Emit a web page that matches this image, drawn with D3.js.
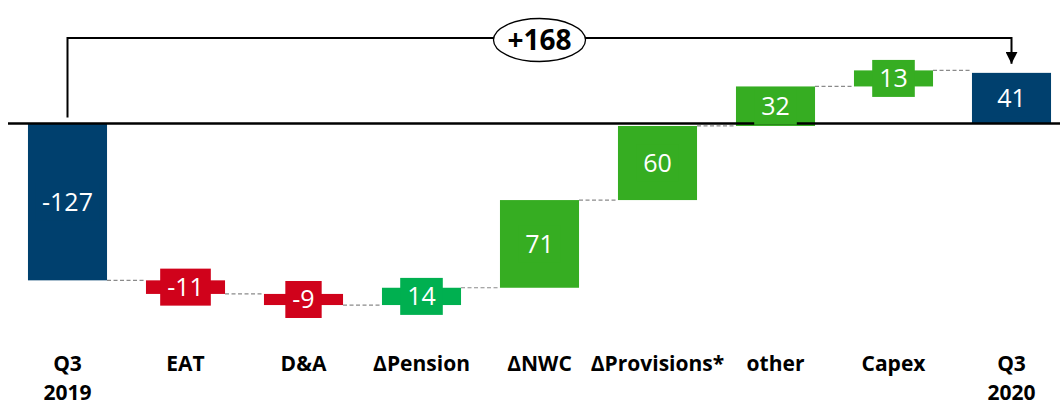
<!DOCTYPE html>
<html>
<head>
<meta charset="utf-8">
<script src="https://cdn.jsdelivr.net/npm/d3@7"></script>
<style>
  html, body { margin: 0; padding: 0; background: #fff; }
  svg { display: block; }
  text { font-family: "Open Sans", "Liberation Sans", sans-serif; }
</style>
</head>
<body>
<svg id="chart" width="1060" height="407"></svg>
<script>
// Cash bridge: Q3 2019 -> Q3 2020
const categories = ["Q3 2019", "EAT", "D&A", "ΔPension", "ΔNWC", "ΔProvisions*", "other", "Capex", "Q3 2020"];
const values     = [-127, -11, -9, 14, 71, 60, 32, 13, 41];
const kinds      = ["total", "delta", "delta", "delta", "delta", "delta", "delta", "delta", "total"];
const tickLabels = [["Q3", "2019"], ["EAT"], ["D&A"], ["ΔPension"], ["ΔNWC"], ["ΔProvisions*"], ["other"], ["Capex"], ["Q3", "2020"]];

const navy = "#00406E", red = "#D0021B", green = "#36AD22", greenAlt = "#00B050";
const barColors = {
  "Q3 2019": navy, "EAT": red, "D&A": red, "ΔPension": greenAlt, "ΔNWC": green,
  "ΔProvisions*": green, "other": green, "Capex": green, "Q3 2020": navy
};

// running totals for the floating bars
let run = 0;
const bars = categories.map((c, i) => {
  let y0, y1;
  if (kinds[i] === "total") { y0 = 0; y1 = values[i]; run = values[i]; }
  else { y0 = run; y1 = run + values[i]; run = y1; }
  return { cat: c, value: values[i], y0, y1, color: barColors[c] };
});

const svg = d3.select("#chart");

const x = d3.scaleBand().domain(categories).range([8.5, 1070.5])
  .paddingInner(0.33).paddingOuter(0.165);
const y = d3.scaleLinear().domain([-150, 50]).range([308.75, 61.75]);
const bw = x.bandwidth();

// dashed connectors between consecutive bars
const conn = [];
for (let i = 0; i < bars.length - 1; i++) {
  conn.push({ x1: x(bars[i].cat) + bw, x2: x(bars[i + 1].cat), lvl: bars[i].y1 });
}
svg.append("g").selectAll("line").data(conn).join("line")
  .attr("x1", d => d.x1).attr("x2", d => d.x2)
  .attr("y1", d => y(d.lvl)).attr("y2", d => y(d.lvl))
  .attr("stroke", "#8a8a8a").attr("stroke-width", 1.2)
  .attr("stroke-dasharray", "4,2.5");

// bars
svg.append("g").selectAll("rect").data(bars).join("rect")
  .attr("x", d => x(d.cat))
  .attr("width", bw)
  .attr("y", d => y(Math.max(d.y0, d.y1)))
  .attr("height", d => Math.abs(y(d.y0) - y(d.y1)))
  .attr("fill", d => d.color);

// zero line
svg.append("line")
  .attr("x1", 8).attr("x2", 1060)
  .attr("y1", y(0)).attr("y2", y(0))
  .attr("stroke", "#000").attr("stroke-width", 2.5);

// value labels on a box in the bar colour
const fmt = v => String(v);
const lbl = svg.append("g").selectAll("g").data(bars).join("g")
  .attr("transform", d => `translate(${x(d.cat) + bw / 2},${(y(d.y0) + y(d.y1)) / 2})`);
lbl.append("text")
  .attr("text-anchor", "middle")
  .attr("dy", "0.36em")
  .attr("fill", "#fff")
  .attr("font-size", 25)
  .text(d => fmt(d.value));
lbl.each(function () {
  const g = d3.select(this);
  const bb = g.select("text").node().getBBox();
  g.insert("rect", "text")
    .attr("x", bb.x - 7).attr("width", bb.width + 14)
    .attr("y", -18.5).attr("height", 37)
    .attr("fill", d => d.color);
});

// category labels
const cats = svg.append("g").selectAll("text").data(categories).join("text")
  .attr("x", d => x(d) + bw / 2)
  .attr("y", 371)
  .attr("text-anchor", "middle")
  .attr("font-size", 21)
  .attr("font-weight", "bold")
  .attr("fill", "#000");
cats.each(function (d, i) {
  const t = d3.select(this);
  tickLabels[i].forEach((line, j) => {
    t.append("tspan").attr("x", x(d) + bw / 2).attr("dy", j === 0 ? 0 : 29).text(line);
  });
});

// total change bracket
const first = bars[0], last = bars[bars.length - 1];
const xa = x(first.cat) + bw / 2, xb = x(last.cat) + bw / 2;
const yTop = 38;
svg.append("defs").append("marker")
  .attr("id", "arrow").attr("viewBox", "0 0 10 10")
  .attr("refX", 10).attr("refY", 5)
  .attr("markerWidth", 6).attr("markerHeight", 6)
  .attr("markerUnits", "strokeWidth")
  .attr("orient", "auto")
  .append("path").attr("d", "M0,0L10,5L0,10Z").attr("fill", "#000");
svg.append("path")
  .attr("d", `M${xa},${y(0) - 6}V${yTop}H${xb}V${y(last.y1) - 9}`)
  .attr("fill", "none").attr("stroke", "#000").attr("stroke-width", 2)
  .attr("marker-end", "url(#arrow)");
const cx = (xa + xb) / 2;
svg.append("ellipse")
  .attr("cx", cx).attr("cy", yTop + 2).attr("rx", 46).attr("ry", 21.5)
  .attr("fill", "#fff").attr("stroke", "#000").attr("stroke-width", 1.3);
svg.append("text")
  .attr("x", cx).attr("y", yTop + 2).attr("dy", "0.36em")
  .attr("text-anchor", "middle")
  .attr("font-size", 28).attr("font-weight", "bold")
  .text("+" + (last.value - first.value));
</script>
</body>
</html>
